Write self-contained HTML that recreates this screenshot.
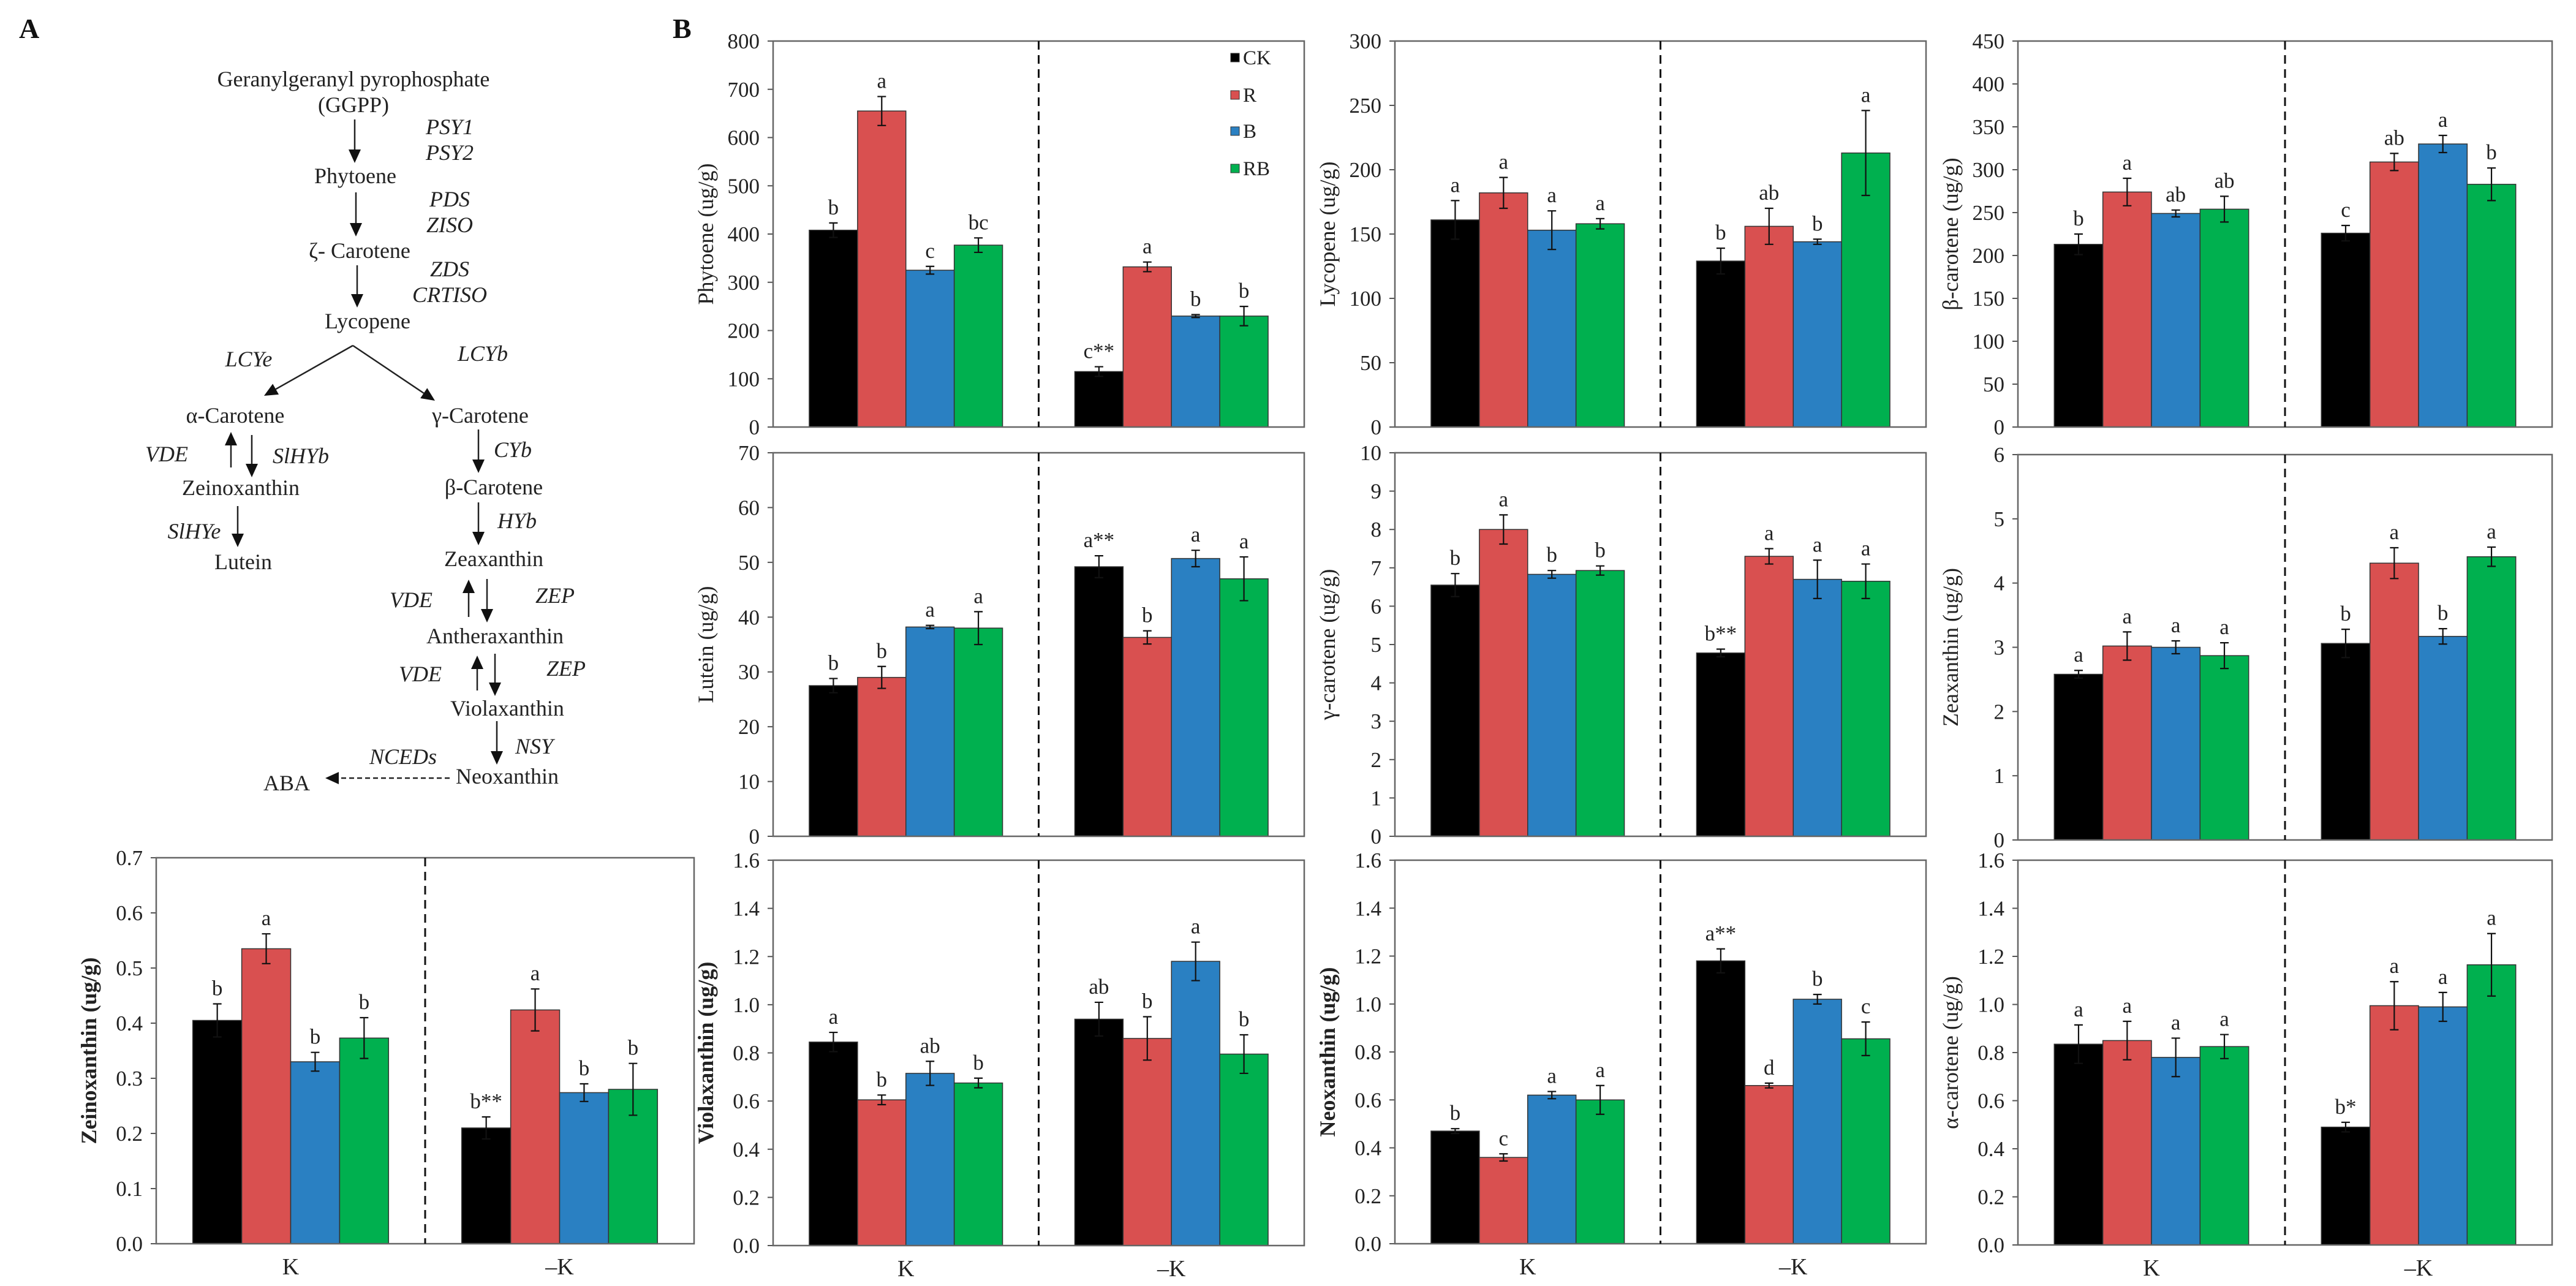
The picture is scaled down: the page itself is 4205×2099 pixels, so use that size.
<!DOCTYPE html>
<html><head><meta charset="utf-8"><style>
html,body{margin:0;padding:0;background:#fff;}
svg{display:block;font-family:"Liberation Serif",serif;}
</style></head><body>
<svg id="fig" xmlns="http://www.w3.org/2000/svg" width="4205" height="2099" viewBox="0 0 4205 2099">
<defs><marker id="ah" markerWidth="10" markerHeight="10" refX="8" refY="5" orient="auto" markerUnits="userSpaceOnUse"><path d="M0,0 L0,0"/></marker></defs>
<g id="pathway" font-size="36" text-anchor="middle" fill="#222"></g>
<g id="charts"></g>
</svg>
<script>
// ---------- shared categories ----------
const groups = ["K", "\u2013K"];
const series = ["CK", "R", "B", "RB"];
const colors = ["#000000", "#d95050", "#2a80c2", "#00b04f"];

// ---------- chart data ----------
const phytoeneTicks = ["0","100","200","300","400","500","600","700","800"];
const phytoeneVals = [408, 655, 325, 377, 115, 332, 230, 230];
const phytoeneErr = [15, 30, 8, 15, 10, 10, 3, 20];
const phytoeneLet = ["b","a","c","bc","c**","a","b","b"];

const lycopeneTicks = ["0","50","100","150","200","250","300"];
const lycopeneVals = [161, 182, 153, 158, 129, 156, 144, 213];
const lycopeneErr = [15, 12, 15, 4, 10, 14, 2, 33];
const lycopeneLet = ["a","a","a","a","b","ab","b","a"];

const bcaroteneTicks = ["0","50","100","150","200","250","300","350","400","450"];
const bcaroteneVals = [213, 274, 249, 254, 226, 309, 330, 283];
const bcaroteneErr = [12, 16, 4, 15, 9, 10, 10, 19];
const bcaroteneLet = ["b","a","ab","ab","c","ab","a","b"];

const luteinTicks = ["0","10","20","30","40","50","60","70"];
const luteinVals = [27.5, 29, 38.2, 38, 49.2, 36.3, 50.7, 47];
const luteinErr = [1.3, 2, 0.3, 3, 2, 1.2, 1.5, 4];
const luteinLet = ["b","b","a","a","a**","b","a","a"];

const gcaroteneTicks = ["0","1","2","3","4","5","6","7","8","9","10"];
const gcaroteneVals = [6.55, 8.0, 6.83, 6.93, 4.78, 7.3, 6.7, 6.65];
const gcaroteneErr = [0.3, 0.38, 0.1, 0.12, 0.1, 0.2, 0.5, 0.45];
const gcaroteneLet = ["b","a","b","b","b**","a","a","a"];

const zeaxTicks = ["0","1","2","3","4","5","6"];
const zeaxVals = [2.58, 3.02, 3.0, 2.87, 3.06, 4.31, 3.17, 4.41];
const zeaxErr = [0.06, 0.22, 0.1, 0.2, 0.22, 0.24, 0.12, 0.15];
const zeaxLet = ["a","a","a","a","b","a","b","a"];

const zeinoTicks = ["0.0","0.1","0.2","0.3","0.4","0.5","0.6","0.7"];
const zeinoVals = [0.405, 0.535, 0.33, 0.373, 0.21, 0.424, 0.274, 0.28];
const zeinoErr = [0.03, 0.027, 0.017, 0.037, 0.02, 0.038, 0.016, 0.047];
const zeinoLet = ["b","a","b","b","b**","a","b","b"];

const violaTicks = ["0.0","0.2","0.4","0.6","0.8","1.0","1.2","1.4","1.6"];
const violaVals = [0.845, 0.605, 0.715, 0.675, 0.94, 0.86, 1.18, 0.795];
const violaErr = [0.04, 0.02, 0.05, 0.02, 0.07, 0.09, 0.08, 0.08];
const violaLet = ["a","b","ab","b","ab","b","a","b"];

const neoTicks = ["0.0","0.2","0.4","0.6","0.8","1.0","1.2","1.4","1.6"];
const neoVals = [0.47, 0.36, 0.62, 0.60, 1.18, 0.66, 1.02, 0.855];
const neoErr = [0.01, 0.015, 0.015, 0.06, 0.05, 0.01, 0.02, 0.07];
const neoLet = ["b","c","a","a","a**","d","b","c"];

const acaroteneTicks = ["0.0","0.2","0.4","0.6","0.8","1.0","1.2","1.4","1.6"];
const acaroteneVals = [0.835, 0.85, 0.78, 0.825, 0.49, 0.995, 0.99, 1.165];
const acaroteneErr = [0.08, 0.08, 0.08, 0.05, 0.02, 0.1, 0.06, 0.13];
const acaroteneLet = ["a","a","a","a","b*","a","a","a"];

const NS = "http://www.w3.org/2000/svg";
function mk(tag, attrs, parent) {
  const e = document.createElementNS(NS, tag);
  for (const k in attrs) e.setAttribute(k, attrs[k]);
  parent.appendChild(e);
  return e;
}

const layouts = [
  {id:"phytoene", title:"Phytoene (ug/g)", ticks:phytoeneTicks, vals:phytoeneVals, err:phytoeneErr, lets:phytoeneLet, x0:1262, x1:2129, y0:67, y1:697, legend:true},
  {id:"lycopene", title:"Lycopene (ug/g)", ticks:lycopeneTicks, vals:lycopeneVals, err:lycopeneErr, lets:lycopeneLet, x0:2277, x1:3144, y0:67, y1:697},
  {id:"b-carotene", title:"\u03b2-carotene (ug/g)", ticks:bcaroteneTicks, vals:bcaroteneVals, err:bcaroteneErr, lets:bcaroteneLet, x0:3294, x1:4166, y0:67, y1:697},
  {id:"lutein", title:"Lutein (ug/g)", ticks:luteinTicks, vals:luteinVals, err:luteinErr, lets:luteinLet, x0:1262, x1:2129, y0:739, y1:1365},
  {id:"g-carotene", title:"\u03b3-carotene (ug/g)", ticks:gcaroteneTicks, vals:gcaroteneVals, err:gcaroteneErr, lets:gcaroteneLet, x0:2277, x1:3144, y0:739, y1:1365},
  {id:"zeaxanthin", title:"Zeaxanthin (ug/g)", ticks:zeaxTicks, vals:zeaxVals, err:zeaxErr, lets:zeaxLet, x0:3294, x1:4166, y0:742, y1:1371},
  {id:"zeinoxanthin", title:"Zeinoxanthin (ug/g)", ticks:zeinoTicks, vals:zeinoVals, err:zeinoErr, lets:zeinoLet, x0:255, x1:1133, y0:1400, y1:2030, xlab:true, bold:true},
  {id:"violaxanthin", title:"Violaxanthin (ug/g)", ticks:violaTicks, vals:violaVals, err:violaErr, lets:violaLet, x0:1262, x1:2129, y0:1404, y1:2033, xlab:true, bold:true},
  {id:"neoxanthin", title:"Neoxanthin (ug/g)", ticks:neoTicks, vals:neoVals, err:neoErr, lets:neoLet, x0:2277, x1:3144, y0:1404, y1:2030, xlab:true, bold:true},
  {id:"a-carotene", title:"\u03b1-carotene (ug/g)", ticks:acaroteneTicks, vals:acaroteneVals, err:acaroteneErr, lets:acaroteneLet, x0:3294, x1:4166, y0:1404, y1:2032, xlab:true}
];

const chartsRoot = document.getElementById("charts");

function drawChart(c) {
  const g = mk("g", {}, chartsRoot);
  
  
  const tickVals = c.ticks.map(parseFloat);
  const vmax = tickVals[tickVals.length - 1];
  const yS = v => c.y1 - v / vmax * (c.y1 - c.y0);
  const W = c.x1 - c.x0, H = W / 2, bw = 0.182 * H;
  const xS = (gi, si) => c.x0 + gi * H + H / 2 - 2 * bw + si * bw;

  // ticks
  tickVals.forEach((t, i) => {
    const y = yS(t);
    const tl = mk("line", {x1:c.x0 - 9, x2:c.x0, y1:y, y2:y, stroke:"#555", "stroke-width":2}, g);
    
    
    const tx = mk("text", {x:c.x0 - 22, y:y + 12, "text-anchor":"end", "font-size":35, fill:"#222"}, g);
    tx.textContent = c.ticks[i];
    
    
  });
  // y title
  const tcx = c.x0 - 110, tcy = (c.y0 + c.y1) / 2;
  const tt = mk("text", {x:tcx, y:tcy + 12, "text-anchor":"middle", "font-size":36, fill:"#222", transform:`rotate(-90 ${tcx} ${tcy})`, "font-weight": c.bold ? "bold" : "normal"}, g);
  tt.textContent = c.title;
  
  

  // bars
  groups.forEach((grp, gi) => {
    series.forEach((s, si) => {
      const k = gi * 4 + si;
      const v = c.vals[k], e = c.err[k];
      const x = xS(gi, si), y = yS(v);
      const r = mk("rect", {x:x, y:y, width:bw, height:c.y1 - y, fill:colors[si], stroke:"#333", "stroke-width":1.5}, g);
      
      
      const cx = x + bw / 2, yt = yS(v + e), yb = yS(v - e);
      const eb = mk("path", {d:`M${cx},${yt}V${yb}M${cx-7},${yt}H${cx+7}M${cx-7},${yb}H${cx+7}`, stroke:"#111", "stroke-width":2.2, fill:"none"}, g);
      
      
      const lt = mk("text", {x:cx, y:yt - 14, "text-anchor":"middle", "font-size":35, fill:"#222"}, g);
      lt.textContent = c.lets[k];
      
      
    });
    if (c.xlab) {
      const xl = mk("text", {x:c.x0 + gi * H + H / 2, y:c.y1 + 50, "text-anchor":"middle", "font-size":38, fill:"#222"}, g);
      xl.textContent = grp;
      
      
    }
  });
  // frame and divider
  const fr = mk("rect", {x:c.x0, y:c.y0, width:W, height:c.y1 - c.y0, fill:"none", stroke:"#666", "stroke-width":2.5}, g);
  
  
  const dv = mk("line", {x1:c.x0 + H, x2:c.x0 + H, y1:c.y0, y2:c.y1, stroke:"#111", "stroke-width":3, "stroke-dasharray":"14 9"}, g);
  
  

  if (c.legend) {
    const ly = [94, 155, 214, 275];
    series.forEach((s, si) => {
      const sq = mk("rect", {x:2009, y:ly[si] - 7, width:14, height:14, fill:colors[si], stroke:"#333", "stroke-width":1}, g);
      
      
      const lt = mk("text", {x:2029, y:ly[si] + 11, "font-size":33, fill:"#222"}, g);
      lt.textContent = s;
      
      
    });
  }
}
layouts.forEach(drawChart);

// panel labels
const figRoot = document.getElementById("fig");
const la = mk("text", {x:31, y:62, "font-size":46, "font-weight":"bold", fill:"#111"}, figRoot);
la.textContent = "A";


const lb = mk("text", {x:1098, y:62, "font-size":46, "font-weight":"bold", fill:"#111"}, figRoot);
lb.textContent = "B";



// pathway
const pw = document.getElementById("pathway");
const nodes = [
  ["Geranylgeranyl  pyrophosphate",577,141,0],["(GGPP)",577,183,0],
  ["PSY1",734,219,1],["PSY2",734,261,1],["Phytoene",580,299,0],
  ["PDS",734,337,1],["ZISO",734,379,1],["\u03b6- Carotene",587,421,0],
  ["ZDS",734,451,1],["CRTISO",734,493,1],["Lycopene",600,536,0],
  ["LCYe",406,598,1],["LCYb",788,589,1],
  ["\u03b1-Carotene",384,690,0],["\u03b3-Carotene",784,690,0],
  ["VDE",272,753,1],["SlHYb",491,756,1],["Zeinoxanthin",393,808,0],
  ["SlHYe",317,879,1],["Lutein",397,929,0],
  ["CYb",837,746,1],["\u03b2-Carotene",806,807,0],["HYb",844,862,1],
  ["Zeaxanthin",806,924,0],["VDE",671,991,1],["ZEP",906,984,1],
  ["Antheraxanthin",808,1050,0],["VDE",686,1112,1],["ZEP",924,1103,1],
  ["Violaxanthin",828,1168,0],["NSY",872,1230,1],["Neoxanthin",828,1279,0],
  ["NCEDs",658,1247,1],["ABA",468,1290,0]
];
nodes.forEach(n => {
  const t = mk("text", {x:n[1], y:n[2], "font-style": n[3] ? "italic" : "normal", "xml:space":"preserve"}, pw);
  t.textContent = n[0];
  
  
});
function arrow(x1, y1, x2, y2, dashed) {
  const dx = x2 - x1, dy = y2 - y1, L = Math.hypot(dx, dy), ux = dx / L, uy = dy / L;
  const hl = 22, hw = 10;
  const bx = x2 - ux * hl, by = y2 - uy * hl;
  const ln = mk("line", {x1:x1, y1:y1, x2:bx, y2:by, stroke:"#222", "stroke-width":2.5}, pw);
  if (dashed) ln.setAttribute("stroke-dasharray", "8 5");
  
  
  const hd = mk("polygon", {points:`${x2},${y2} ${bx - uy * hw},${by + ux * hw} ${bx + uy * hw},${by - ux * hw}`, fill:"#111"}, pw);
  
  
}
arrow(579,195,579,266); arrow(581,314,581,386); arrow(583,433,583,502);
arrow(576,564,431,646); arrow(576,564,710,654);
arrow(377,763,377,705); arrow(411,710,411,779); arrow(388,826,388,893);
arrow(781,701,781,772); arrow(781,820,781,890);
arrow(765,1007,765,946); arrow(795,945,795,1016);
arrow(779,1127,779,1070); arrow(808,1067,808,1136);
arrow(811,1177,811,1248); arrow(734,1270,531,1270,true);
</script>
</body></html>
